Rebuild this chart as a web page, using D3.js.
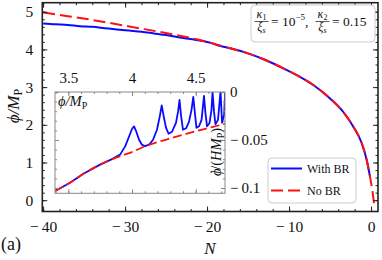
<!DOCTYPE html>
<html lang="en">
<head>
    <meta charset="UTF-8">
    <title>phi vs N</title>
    <style>
        body { margin: 0; background: #fff; }
        svg { display: block; }
        text { font-family: "Liberation Serif", "DejaVu Serif", serif; fill: #111; }
        .it { font-style: italic; }
    </style>
</head>
<body>
    <svg></svg>
    <script src="https://cdn.jsdelivr.net/npm/d3@7"></script>
    <script>
        // main panel: phi(N), no backreaction
        var nNoBR   = [-40, -37.2, -33.1, -29.0, -24.9, -20.9, -17.2, -15.2, -13.1, -11.1, -9.06, -7.0, -5.0, -3.38, -2.16, -1.13, -0.52, -0.12, 0.21, 0.37]
        var phiNoBR = [4.98, 4.89, 4.75, 4.59, 4.43, 4.25, 4.03, 3.91, 3.74, 3.54, 3.32, 3.05, 2.70, 2.34, 1.95, 1.51, 1.06, 0.62, 0.18, -0.09]
        // main panel: phi(N), with backreaction
        var nBR   = [-40, -38.5, -37, -35.5, -34, -32.5, -31, -29.5, -28, -26.5, -25, -23.5, -22, -20.5, -19.5, -18.7, -18, -17.2, -15.2, -13.1, -11.1, -9.06, -7.0, -5.0, -3.38, -2.16, -1.13, -0.52, -0.12]
        var phiBR = [4.69, 4.665, 4.65, 4.615, 4.60, 4.565, 4.53, 4.50, 4.47, 4.425, 4.38, 4.325, 4.275, 4.225, 4.175, 4.11, 4.07, 4.03, 3.91, 3.74, 3.54, 3.32, 3.05, 2.70, 2.34, 1.95, 1.51, 1.06, 0.62]

        // inset: dphi/dN vs phi
        var inPhiNoBR = [3.396, 3.513, 3.618, 3.749, 3.880, 4.01, 4.10, 4.27, 4.40, 4.51, 4.62, 4.735]
        var inVelNoBR = [-0.1030, -0.0945, -0.0852, -0.0756, -0.0680, -0.0620, -0.0566, -0.0495, -0.0445, -0.0404, -0.0368, -0.0330]
        var inPhiBR = [3.396, 3.513, 3.618, 3.749, 3.843, 3.906, 3.945, 3.976, 4.000, 4.016, 4.031, 4.055, 4.078, 4.102,
                       4.133, 4.165, 4.196, 4.220, 4.233, 4.251, 4.267, 4.287, 4.314, 4.345, 4.361, 4.373, 4.385, 4.400,
                       4.424, 4.447, 4.467, 4.481, 4.495, 4.506, 4.526, 4.546, 4.565, 4.577, 4.589, 4.608, 4.624, 4.632,
                       4.644, 4.655, 4.675, 4.695, 4.702, 4.707, 4.723, 4.731]
        var inVelBR = [-0.1030, -0.0945, -0.0852, -0.0756, -0.0699, -0.0652, -0.0569, -0.0466, -0.0383, -0.0359, -0.0404, -0.0497, -0.0549, -0.0564,
                       -0.0549, -0.0497, -0.0393, -0.0238, -0.0140, -0.0269, -0.0373, -0.0435, -0.0414, -0.0321, -0.0207, -0.0083, -0.0248, -0.0393,
                       -0.0378, -0.0311, -0.0186, -0.0052, -0.0238, -0.0373, -0.0357, -0.0290, -0.0041, -0.0228, -0.0357, -0.0326, -0.0186, 0.0,
                       -0.0207, -0.0336, -0.0290, 0.0010, -0.0186, -0.0321, -0.0238, 0.0]

        var xTicks = [-40, -30, -20, -10, 0]
        var yTicks = [0, 1, 2, 3, 4, 5]
        var inXTicks = [3.5, 4, 4.5]
        var inYTicks = [0, -0.05, -0.1]
        var legendNames = ["With BR", "No BR"]

        var W = 382, H = 260
        var svg = d3.select('svg').attr('width', W).attr('height', H)

        var fmt = function (d) { return d < 0 ? "\u2212" + "\u2009" + Math.abs(d) : "" + d }

        //比例尺
        var xScale = d3.scaleLinear().domain([-40.1, 0.85]).range([42.3, 378])
        var yScale = d3.scaleLinear().domain([-0.3, 5.24]).range([211.5, 2.7])
        var xIn = d3.scaleLinear().domain([3.395, 4.73]).range([55, 225])
        var yIn = d3.scaleLinear().domain([-0.1055, 0]).range([193.3, 92])

        svg.append("clipPath").attr("id", "clipMain").append("rect")
            .attr("x", 42.3).attr("y", 2.7).attr("width", 378 - 42.3).attr("height", 211.5 - 2.7)
        svg.append("clipPath").attr("id", "clipIn").append("rect")
            .attr("x", 55).attr("y", 92).attr("width", 170).attr("height", 193.3 - 92)

        // main curves
        var mainLine = d3.line()
            .x(function (d) { return xScale(d[0]) })
            .y(function (d) { return yScale(d[1]) })
            .curve(d3.curveMonotoneX)
        var gMain = svg.append("g").attr("clip-path", "url(#clipMain)")
        gMain.append("path").datum(d3.zip(nBR, phiBR)).attr("d", mainLine)
            .attr("fill", "none").attr("stroke", "#0a0aff").attr("stroke-width", 2)
        gMain.append("path").datum(d3.zip(nNoBR, phiNoBR)).attr("d", mainLine)
            .attr("fill", "none").attr("stroke", "#ff1010").attr("stroke-width", 2)
            .attr("stroke-dasharray", "12,5")

        // ticks pointing inwards on all four sides
        function ticks(axis, scale, major, minor, big, small, labels) {
            var g = svg.append("g")
            g.append("g").call(axis(scale).tickValues(minor).tickSize(-small).tickFormat(""))
            g.append("g").call(axis(scale).tickValues(major).tickSize(-big).tickPadding(big + 4).tickFormat(labels ? fmt : ""))
            g.selectAll(".domain").remove()
            g.selectAll("g").attr("font-family", null)
            return g
        }
        var xMinor = d3.range(-40, 1, 2), yMinor = d3.range(0, 5.01, 0.2)
        ticks(d3.axisBottom, xScale, xTicks, xMinor, 5, 2.5, true).attr("transform", "translate(0,211.5)")
        ticks(d3.axisTop, xScale, xTicks, xMinor, 5, 2.5, false).attr("transform", "translate(0,2.7)")
        ticks(d3.axisLeft, yScale, yTicks, yMinor, 5, 2.5, true).attr("transform", "translate(42.3,0)")
        ticks(d3.axisRight, yScale, yTicks, yMinor, 5, 2.5, false).attr("transform", "translate(378,0)")
        svg.selectAll(".tick line").attr("stroke", "#222")
        svg.selectAll(".tick text").style("font-size", "15.5px").style("font-family", "'Liberation Serif'")

        svg.append("rect").attr("x", 42.3).attr("y", 2.7).attr("width", 378 - 42.3).attr("height", 211.5 - 2.7)
            .attr("fill", "none").attr("stroke", "#222").attr("stroke-width", 1.6)

        // axis titles
        var yt = svg.append("text").attr("transform", "translate(19,106) rotate(-90)")
            .attr("text-anchor", "middle").style("font-size", "17px")
        yt.append("tspan").attr("class", "it").text("\u03d5/M")
        yt.append("tspan").attr("dy", 3).style("font-size", "12px").text("P")
        svg.append("text").attr("class", "it").attr("x", 210).attr("y", 254)
            .attr("text-anchor", "middle").style("font-size", "17px").text("N")
        svg.append("text").attr("x", 1).attr("y", 250).style("font-size", "18px").text("(a)")

        // parameter box
        svg.append("rect").attr("x", 251).attr("y", 5).attr("width", 124).attr("height", 37)
            .attr("rx", 4).attr("fill", "#fff").attr("stroke", "#ccc").attr("stroke-width", 1)
        function frac(cx, num, nsub, den, dsub) {
            var t1 = svg.append("text").attr("x", cx).attr("y", 18).attr("text-anchor", "middle").style("font-size", "12px")
            t1.append("tspan").attr("class", "it").text(num)
            t1.append("tspan").attr("dy", 2).style("font-size", "8px").text(nsub)
            svg.append("line").attr("x1", cx - 7).attr("x2", cx + 7).attr("y1", 21.5).attr("y2", 21.5)
                .attr("stroke", "#111").attr("stroke-width", 0.7)
            var t2 = svg.append("text").attr("x", cx).attr("y", 31).attr("text-anchor", "middle").style("font-size", "12px")
            t2.append("tspan").attr("class", "it").text(den)
            t2.append("tspan").attr("class", "it").attr("dy", 2).style("font-size", "8px").text(dsub)
        }
        frac(261.5, "\u03ba", "1", "\u03be", "s")
        var eq1 = svg.append("text").attr("x", 271).attr("y", 26).style("font-size", "13.5px")
        eq1.append("tspan").text("= 10")
        eq1.append("tspan").attr("dy", -6).style("font-size", "9px").text("\u22125")
        eq1.append("tspan").attr("dy", 6).text(",")
        frac(322.5, "\u03ba", "2", "\u03be", "s")
        svg.append("text").attr("x", 332).attr("y", 26).style("font-size", "13.5px").text("= 0.15")

        // legend
        svg.append("rect").attr("x", 268).attr("y", 158).attr("width", 88).attr("height", 45)
            .attr("rx", 4).attr("fill", "#fff").attr("stroke", "#ccc").attr("stroke-width", 1)
        svg.append("line").attr("x1", 271).attr("x2", 302).attr("y1", 168.5).attr("y2", 168.5)
            .attr("stroke", "#0a0aff").attr("stroke-width", 2)
        svg.append("line").attr("x1", 271).attr("x2", 302).attr("y1", 190.5).attr("y2", 190.5)
            .attr("stroke", "#ff1010").attr("stroke-width", 2).attr("stroke-dasharray", "12,5")
        svg.selectAll(".leg").data(legendNames).enter().append("text")
            .attr("x", 307).attr("y", function (d, i) { return 172.5 + i * 22 })
            .style("font-size", "12px").text(function (d) { return d })

        // inset
        svg.append("rect").attr("x", 55).attr("y", 92).attr("width", 170).attr("height", 193.3 - 92)
            .attr("fill", "#fff")
        var inLine = d3.line()
            .x(function (d) { return xIn(d[0]) })
            .y(function (d) { return yIn(d[1]) })
        var gIn = svg.append("g").attr("clip-path", "url(#clipIn)")
        gIn.append("path").datum(d3.zip(inPhiBR, inVelBR)).attr("d", inLine)
            .attr("fill", "none").attr("stroke", "#0a0aff").attr("stroke-width", 1.8).attr("stroke-linejoin", "round")
        gIn.append("path").datum(d3.zip(inPhiNoBR, inVelNoBR)).attr("d", inLine.curve(d3.curveMonotoneX))
            .attr("fill", "none").attr("stroke", "#ff1010").attr("stroke-width", 1.8)
            .attr("stroke-dasharray", "9,4")

        var inXMinor = d3.range(3.4, 4.75, 0.1), inYMinor = d3.range(-0.1, 0.001, 0.01)
        var gi = [
            ticks(d3.axisTop, xIn, inXTicks, inXMinor, 4, 2, true).attr("transform", "translate(0,92)"),
            ticks(d3.axisBottom, xIn, inXTicks, inXMinor, 4, 2, false).attr("transform", "translate(0,193.3)"),
            ticks(d3.axisRight, yIn, inYTicks, inYMinor, 4, 2, true).attr("transform", "translate(225,0)"),
            ticks(d3.axisLeft, yIn, inYTicks, inYMinor, 4, 2, false).attr("transform", "translate(55,0)")
        ]
        gi.forEach(function (g) {
            g.selectAll(".tick line").attr("stroke", "#888")
            g.selectAll(".tick text").style("font-size", "15px").style("font-family", "'Liberation Serif'").attr("fill", "#111")
        })
        gi[0].selectAll(".tick text").attr("dy", "-0.1em")
        gi[2].selectAll(".tick text").attr("dx", "-3")
        svg.append("rect").attr("x", 55).attr("y", 92).attr("width", 170).attr("height", 193.3 - 92)
            .attr("fill", "none").attr("stroke", "#888").attr("stroke-width", 1)

        var ix = svg.append("text").attr("x", 58).attr("y", 106).style("font-size", "14.5px")
        ix.append("tspan").attr("class", "it").text("\u03d5/M")
        ix.append("tspan").attr("dy", 3).style("font-size", "10px").text("P")
        var iy = svg.append("text").attr("transform", "translate(221,152) rotate(-90)")
            .attr("text-anchor", "middle").style("font-size", "14.5px")
        iy.append("tspan").attr("class", "it").text("\u03d5")
        iy.append("tspan").attr("dx", -6).attr("dy", -1).text("\u02d9")
        iy.append("tspan").attr("dy", 1).text("/(")
        iy.append("tspan").attr("class", "it").text("HM")
        iy.append("tspan").attr("dy", 3).style("font-size", "10px").text("P")
        iy.append("tspan").attr("dy", -3).text(")")
    </script>
</body>
</html>
